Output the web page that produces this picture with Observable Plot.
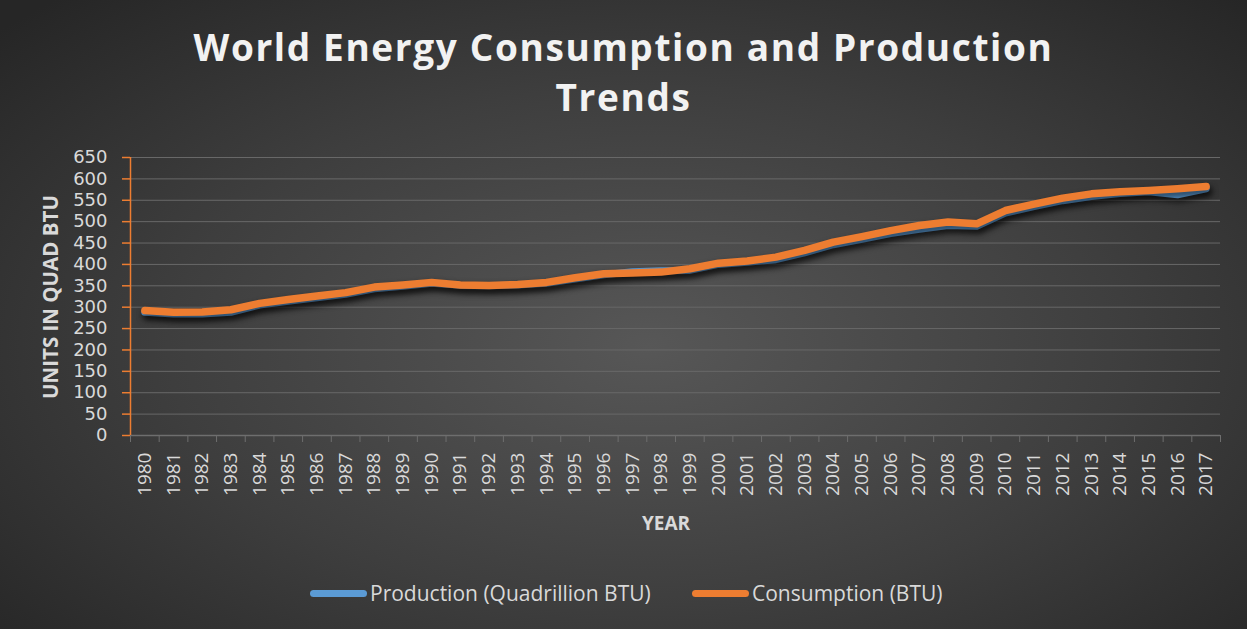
<!DOCTYPE html>
<html>
<head>
<meta charset="utf-8">
<script src="https://cdn.jsdelivr.net/npm/d3@7"></script>
<script src="https://cdn.jsdelivr.net/npm/@observablehq/plot@0.6"></script>
<style>
  html, body { margin: 0; padding: 0; }
  #chart {
    position: relative; width: 1247px; height: 629px; overflow: hidden;
    background: radial-gradient(ellipse 70% 75% at 52% 55%, #575757 0%, #3e3e3e 55%, #262626 100%);
    font-family: "Open Sans", sans-serif;
  }
  #title {
    position: absolute; left: 0; top: 22px; width: 1247px; text-align: center;
    color: #f2f2f2; font-weight: 700; font-size: 37px; line-height: 50px;
  }
  #title span { display: inline-block; white-space: nowrap; }
  #ylabel {
    position: absolute; left: 49.5px; top: 297px; transform: translate(-50%, -50%) rotate(-90deg);
    color: #d9d9d9; font-weight: 700; font-size: 20.5px; white-space: nowrap;
  }
  #xlabel {
    position: absolute; left: 666px; top: 523px; transform: translate(-50%, -50%);
    color: #d9d9d9; font-weight: 700; font-size: 19px; white-space: nowrap;
  }
  #legend { position: absolute; top: 578px; left: 0; width: 1247px; height: 30px; }
  .item { position: absolute; top: 0; display: flex; align-items: center; height: 30px;
          color: #d9d9d9; font-size: 21px; white-space: nowrap; }
  .sw { width: 57px; height: 7px; border-radius: 3.5px; margin-right: 3px; }
  #plot { position: absolute; left: 0; top: 0; }
</style>
</head>
<body>
<div id="chart">
  <div id="plot"></div>
  <div id="title"><span id="t1">World Energy Consumption and Production</span><br><span id="t2">Trends</span></div>
  <div id="ylabel">UNITS IN QUAD BTU</div>
  <div id="xlabel">YEAR</div>
  <div id="legend">
    <div class="item" style="left:310px"><div class="sw" style="background:#5B9BD5"></div>Production (Quadrillion BTU)</div>
    <div class="item" style="left:692px"><div class="sw" style="background:#ED7D31"></div>Consumption (BTU)</div>
  </div>
</div>
<script>
const years = [1980,1981,1982,1983,1984,1985,1986,1987,1988,1989,
               1990,1991,1992,1993,1994,1995,1996,1997,1998,1999,
               2000,2001,2002,2003,2004,2005,2006,2007,2008,2009,
               2010,2011,2012,2013,2014,2015,2016,2017];
const production = [288,284,284,288,305,314,322,330,343,349,
                    356,351,350,352,356,366,376,383,385,386,
                    400,405,411,427,446,459,472,482,491,489,
                    520,535,549,559,566,570,563,577];
const consumption = [292,288,289,294,309,318,326,334,347,352,
                     358,352,351,353,358,369,378,380,382,390,
                     403,408,417,433,452,465,479,491,499,495,
                     526,541,555,565,570,573,577,582];
const yTicks = [0,50,100,150,200,250,300,350,400,450,500,550,600,650];

const data = years.map((y, i) => ({year: y, production: production[i], consumption: consumption[i]}));
const boundaries = years.map(y => y - 0.5).concat([years[years.length - 1] + 0.5]);

const chart = Plot.plot({
  width: 1247, height: 629,
  marginTop: 157, marginBottom: 194, marginLeft: 130, marginRight: 27,
  style: {background: "transparent", color: "#d9d9d9", fontFamily: "'Open Sans', sans-serif", fontSize: "19px", overflow: "visible"},
  x: {type: "linear", domain: [1979.5, 2017.5]},
  y: {domain: [0, 650]},
  marks: [
    Plot.gridY(yTicks, {stroke: "#686868", strokeOpacity: 1, strokeWidth: 1}),
    Plot.ruleY([0], {stroke: "#6e6e6e", strokeWidth: 1.5}),
    Plot.axisX(boundaries, {tickSize: 7, tickFormat: () => "", stroke: "#6e6e6e", label: null}),
    Plot.axisX(years, {tickSize: 0, tickPadding: 17, tickRotate: -90, tickFormat: d => String(d), fill: "#d9d9d9", fontSize: 19, label: null}),
    Plot.axisY(yTicks, {tickSize: 8, tickPadding: 15, stroke: "#ED7D31", strokeWidth: 1.5, fill: "#d9d9d9", fontSize: 18, fontFamily: "'DejaVu Sans', sans-serif", label: null}),
    Plot.ruleX([1979.5], {stroke: "#ED7D31", strokeWidth: 1.5}),
    Plot.lineY(data, {x: "year", y: "production", stroke: "#5B9BD5", strokeWidth: 7, strokeLinecap: "round", strokeLinejoin: "round", className: "series"}),
    Plot.lineY(data, {x: "year", y: "consumption", stroke: "#ED7D31", strokeWidth: 7.5, strokeLinecap: "round", strokeLinejoin: "round", className: "series"})
  ]
});
document.getElementById("plot").appendChild(chart);
chart.querySelectorAll("g.series").forEach(g => g.style.filter = "drop-shadow(2px 4px 3px rgba(0,0,0,0.6))");

// fit title letter spacing to reference width
const t1 = document.getElementById("t1"), t2 = document.getElementById("t2");
const w = t1.getBoundingClientRect().width;
const ls = (860 - w) / t1.textContent.length;
t1.style.letterSpacing = ls + "px";
t2.style.letterSpacing = ls + "px";
</script>
</body>
</html>
